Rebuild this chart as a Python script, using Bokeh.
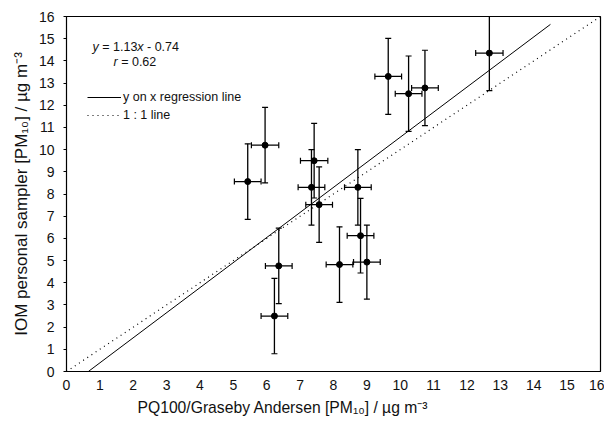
from bokeh.plotting import figure
from bokeh.models import (ColumnDataSource, Whisker, TeeHead, Label, Legend,
                          LegendItem, Title, FixedTicker, Range1d)
from bokeh.embed import file_html
from bokeh.resources import INLINE

# ---- data ----
pq100 = [5.43, 5.95, 6.23, 6.36, 7.34, 7.42, 7.57, 8.18, 8.73, 8.81, 9.00, 9.64, 10.25, 10.74, 12.67]
iom = [8.56, 10.20, 2.50, 4.76, 8.30, 9.50, 7.52, 4.82, 8.30, 6.12, 4.93, 13.30, 12.52, 12.78, 14.35]
iom_err = [1.70, 1.70, 1.70, 1.70, 1.70, 1.68, 1.70, 1.70, 1.70, 1.68, 1.67, 1.71, 1.70, 1.70, 1.69]
pq_err = [0.40, 0.41, 0.40, 0.40, 0.40, 0.41, 0.40, 0.40, 0.40, 0.40, 0.40, 0.40, 0.40, 0.40, 0.41]

reg_slope = 1.13
reg_intercept = -0.74
reg_x = [0.655, 14.5]
one_x = [0, 16]
ticks = list(range(0, 17))

FONT = "Liberation Sans"

src = ColumnDataSource(dict(
    x=pq100, y=iom,
    ylo=[v - e for v, e in zip(iom, iom_err)],
    yhi=[v + e for v, e in zip(iom, iom_err)],
    xlo=[v - e for v, e in zip(pq100, pq_err)],
    xhi=[v + e for v, e in zip(pq100, pq_err)],
))

p = figure(output_backend="svg", toolbar_location=None,
           frame_width=534, frame_height=355,
           x_range=Range1d(0, 16), y_range=Range1d(0, 16),
           min_border_left=66, min_border_top=16, min_border_right=4,
           min_border_bottom=0, background_fill_color="white",
           border_fill_color="white")
p.grid.visible = False
p.outline_line_color = "black"
p.outline_line_width = 1.2

# axes
p.xaxis.ticker = FixedTicker(ticks=ticks)
p.yaxis.ticker = FixedTicker(ticks=ticks)
for ax in (p.xaxis[0], p.yaxis[0]):
    ax.axis_line_color = "black"
    ax.major_label_text_font = FONT
    ax.major_label_text_font_size = "14px"
    ax.major_label_text_color = "#111111"
    ax.minor_tick_line_color = None
    ax.major_tick_line_color = "black"
    ax.axis_label_text_font = FONT
    ax.axis_label_text_font_style = "normal"
    ax.axis_label_text_color = "#111111"
p.xaxis.major_tick_in = 0
p.xaxis.major_tick_out = 0
p.xaxis.major_label_standoff = 8
p.yaxis.major_tick_in = 0
p.yaxis.major_tick_out = 3
p.yaxis.major_label_standoff = 9
p.yaxis.axis_label = "IOM personal sampler [PM\u2081\u2080] / \u00b5g m\u207b\u00b3"
p.yaxis.axis_label_text_font_size = "17px"
p.yaxis.axis_label_standoff = 5

xlab = Title(text="PQ100/Graseby Andersen [PM\u2081\u2080] / \u00b5g m\u207b\u00b3",
             align="left", offset=71, text_font=FONT, text_font_size="15.7px",
             text_font_style="normal", text_color="#111111", standoff=8)
p.add_layout(xlab, "below")

# lines
reg_y = [reg_slope * v + reg_intercept for v in reg_x]
reg = p.line(reg_x, reg_y, line_color="black", line_width=1)
one = p.line(one_x, one_x, line_color="black", line_width=1.2, line_dash="1 4")

# error bars
vhead = dict(size=6, line_color="black", line_width=1.2)
p.add_layout(Whisker(source=src, base="x", lower="ylo", upper="yhi", dimension="height",
                     line_color="black", line_width=1.3,
                     lower_head=TeeHead(**vhead), upper_head=TeeHead(**vhead)))
p.add_layout(Whisker(source=src, base="y", lower="xlo", upper="xhi", dimension="width",
                     line_color="black", line_width=1.3,
                     lower_head=TeeHead(**vhead), upper_head=TeeHead(**vhead)))
p.scatter("x", "y", source=src, size=6, color="black")

# equation annotation
eq_style = dict(text_font=FONT, text_font_size="12.5px", text_baseline="middle",
                text_color="#111111")
p.add_layout(Label(x=0.78, y=14.64, text="y", text_font_style="italic", **eq_style))
p.add_layout(Label(x=0.78, y=14.64, x_offset=9.7, text="= 1.13", **eq_style))
p.add_layout(Label(x=0.78, y=14.64, x_offset=44.8, text="x", text_font_style="italic", **eq_style))
p.add_layout(Label(x=0.78, y=14.64, x_offset=54.5, text="- 0.74", **eq_style))
p.add_layout(Label(x=1.41, y=13.96, text="r", text_font_style="italic", **eq_style))
p.add_layout(Label(x=1.41, y=13.96, x_offset=7.6, text="= 0.62", **eq_style))

legend = Legend(items=[LegendItem(label="y on x regression line", renderers=[reg]),
                       LegendItem(label="1 : 1 line", renderers=[one])],
                location=(21, 247), padding=0, margin=0, spacing=0,
                glyph_height=18, glyph_width=34, label_height=18,
                label_standoff=2, label_text_font=FONT,
                label_text_font_size="12.5px", label_text_color="#111111",
                border_line_alpha=0, background_fill_alpha=0)
p.add_layout(legend, "center")

open("out.html", "w").write(file_html(p, INLINE))
